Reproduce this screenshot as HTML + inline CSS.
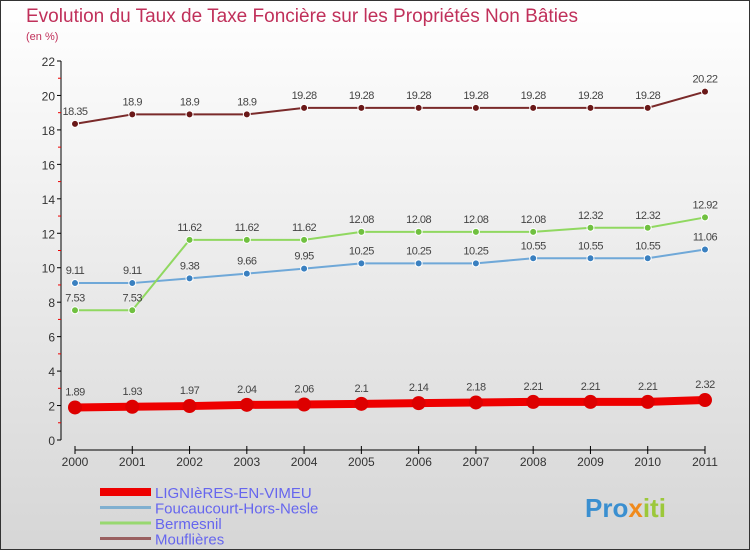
<!DOCTYPE html>
<html><head><meta charset="utf-8"><style>
body{margin:0}
#c{width:750px;height:550px;position:relative;box-sizing:border-box;border:1px solid #333;background:linear-gradient(#ffffff,#d6d6d6);font-family:"Liberation Sans",sans-serif;overflow:hidden}
</style></head><body>
<div id="c">
<svg id="s" width="750" height="550" style="position:absolute;left:-1px;top:-1px">
<text x="26" y="22" font-size="19" fill="#c0305a" textLength="552">Evolution du Taux de Taxe Foncière sur les Propriétés Non Bâties</text>
<text x="26" y="40" font-size="11" fill="#c0305a">(en %)</text>
<g id="axes"></g><g id="series"></g><g id="legend"></g>
<text x="585" y="517" font-size="26" font-weight="bold" fill="#3a8fd0">Pro<tspan fill="#f08a1c">x</tspan><tspan fill="#9cc83a">iti</tspan></text>
</svg>
</div>
<script>
const years=["2000","2001","2002","2003","2004","2005","2006","2007","2008","2009","2010","2011"];
const yTicks=[0,2,4,6,8,10,12,14,16,18,20,22];
const lignieres=[1.89,1.93,1.97,2.04,2.06,2.1,2.14,2.18,2.21,2.21,2.21,2.32];
const foucaucourt=[9.11,9.11,9.38,9.66,9.95,10.25,10.25,10.25,10.55,10.55,10.55,11.06];
const bermesnil=[7.53,7.53,11.62,11.62,11.62,12.08,12.08,12.08,12.08,12.32,12.32,12.92];
const mouflieres=[18.35,18.9,18.9,18.9,19.28,19.28,19.28,19.28,19.28,19.28,19.28,20.22];
const seriesNames=["LIGNIèRES-EN-VIMEU","Foucaucourt-Hors-Nesle","Bermesnil","Mouflières"];
const NS="http://www.w3.org/2000/svg";
const xS=i=>75+i*(630/11);
const yS=v=>440-v*(379/22);
function mk(t,a,p){const e=document.createElementNS(NS,t);for(const k in a)e.setAttribute(k,a[k]);p.appendChild(e);return e;}
const ax=document.getElementById('axes');
let yl=mk('line',{x1:61,y1:61,x2:61,y2:440,stroke:'#000'},ax);


yTicks.forEach(v=>{
 mk('line',{x1:57,y1:yS(v),x2:61,y2:yS(v),stroke:'#000'},ax);
 if(v<22)mk('line',{x1:58,y1:yS(v+1),x2:61,y2:yS(v+1),stroke:'#e00'},ax);
 const t=mk('text',{x:55,y:yS(v)+5,'font-size':12,'text-anchor':'end',fill:'#333'},ax);t.textContent=v;
 
 
});
let xl=mk('line',{x1:75,y1:450,x2:705,y2:450,stroke:'#000'},ax);


years.forEach((y,i)=>{
 mk('line',{x1:xS(i),y1:446,x2:xS(i),y2:454,stroke:'#000'},ax);
 const t=mk('text',{x:xS(i),y:466,'font-size':12,'text-anchor':'middle',fill:'#333'},ax);t.textContent=y;
 
 
});
const sg=document.getElementById('series');
const defs=[[mouflieres,'#7a2a2a','#6a1818',2,3.5,'mouflieres'],[foucaucourt,'#6fa8d8','#3a80c0',2,3.5,'foucaucourt'],[bermesnil,'#90d860','#70c040',2,3.5,'bermesnil'],[lignieres,'#ee0000','#dd0000',8,7,'lignieres']];
defs.forEach(([d,lc,pc,w,r,n])=>{
 const pl=mk('polyline',{points:d.map((v,i)=>xS(i)+','+yS(v)).join(' '),fill:'none',stroke:lc,'stroke-width':w},sg);
 
 
 d.forEach((v,i)=>{
  const c=mk('circle',{cx:xS(i),cy:yS(v),r:r,fill:pc,stroke:'#fff','stroke-width':r>5?0:1},sg);
  
  
  const t=mk('text',{x:xS(i),y:yS(v)-(r>5?12:9),'font-size':11,'text-anchor':'middle',fill:'#444','letter-spacing':'-0.5'},sg);
  t.textContent=String(v);
  
  
 });
});
const lg=document.getElementById('legend');
const lc=[['#ee0000',8],['#80b0d0',3],['#98d870',3],['#9a6060',3]];
seriesNames.forEach((n,i)=>{
 const y=492+i*15.5;
 const l=mk('line',{x1:100,y1:y,x2:151,y2:y,stroke:lc[i][0],'stroke-width':lc[i][1]},lg);
 
 
 const t=mk('text',{x:155,y:y+6,'font-size':15,fill:'#6666ee'},lg);t.textContent=n;
 
 
});
</script>
</body></html>
